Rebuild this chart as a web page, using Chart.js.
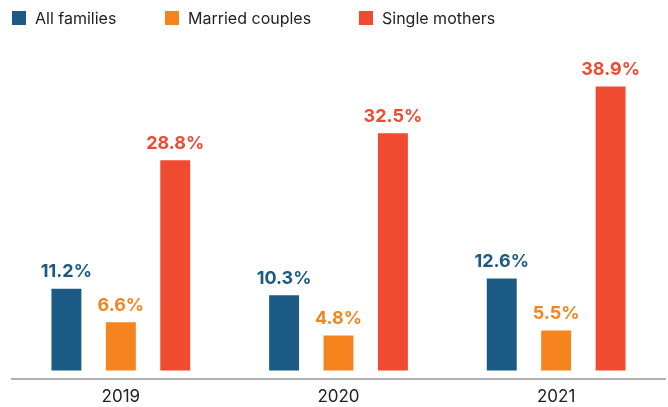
<!DOCTYPE html>
<html>
<head>
<meta charset="utf-8">
<script src="https://cdn.jsdelivr.net/npm/chart.js@4.4.0/dist/chart.umd.min.js"></script>
<style>
  html, body { margin: 0; padding: 0; background: #fff; }
  #wrap { position: relative; width: 668px; height: 407px; }
  #legend { position: absolute; left: 0; top: 0; width: 668px; height: 36px; font-family: Inter, sans-serif; font-size: 16px; color: #222; }
  .item { position: absolute; top: 9px; display: flex; align-items: center; height: 18px; }
  .box { width: 14px; height: 14px; margin-right: 9px; }
</style>
</head>
<body>
<div id="wrap">
  <canvas id="c" width="668" height="407"></canvas>
  <div id="legend"></div>
</div>
<script>
const categories = ["2019", "2020", "2021"];
const seriesNames = ["All families", "Married couples", "Single mothers"];
const allFamilies = [11.2, 10.3, 12.6];
const marriedCouples = [6.6, 4.8, 5.5];
const singleMothers = [28.8, 32.5, 38.9];
const colors = ["#1b5a84", "#f5841f", "#f04a30"];
const seriesValues = [allFamilies, marriedCouples, singleMothers];

// legend (HTML, real text)
const legendLefts = [12, 165, 359];
const legend = document.getElementById('legend');
seriesNames.forEach((n, i) => {
  const d = document.createElement('div');
  d.className = 'item';
  d.style.left = legendLefts[i] + 'px';
  d.innerHTML = '<span class="box" style="background:' + colors[i] + '"></span><span>' + n + '</span>';
  legend.appendChild(d);
});

const labelPlugin = {
  id: 'valueLabels',
  afterDatasetsDraw(chart) {
    const ctx = chart.ctx;
    ctx.save();
    ctx.font = 'bold 18px Inter, sans-serif';
    ctx.textAlign = 'center';
    ctx.textBaseline = 'bottom';
    chart.data.datasets.forEach((ds, di) => {
      const meta = chart.getDatasetMeta(di);
      meta.data.forEach((bar, i) => {
        ctx.fillStyle = colors[di];
        ctx.fillText(ds.data[i].toFixed(1) + '%', bar.x, bar.y - 8);
      });
    });
    ctx.restore();
  }
};

new Chart(document.getElementById('c'), {
  type: 'bar',
  data: {
    labels: categories,
    datasets: seriesValues.map((v, i) => ({
      label: seriesNames[i],
      data: v,
      backgroundColor: colors[i],
      borderWidth: 0,
      categoryPercentage: 0.75,
      barPercentage: 0.55
    }))
  },
  options: {
    responsive: false,
    animation: false,
    events: [],
    layout: { padding: { left: 12, right: 3, top: 40, bottom: -8 } },
    plugins: { legend: { display: false }, tooltip: { enabled: false } },
    scales: {
      x: {
        grid: { display: false, drawTicks: false },
        border: { display: true, color: '#b0b0b0', width: 2, dash: [2, 2] },
        ticks: { color: '#222', font: { family: 'Inter, sans-serif', size: 17 }, padding: 8 }
      },
      y: {
        display: false,
        min: -1.1,
        max: 45.27
      }
    }
  },
  plugins: [labelPlugin]
});
</script>
</body>
</html>
